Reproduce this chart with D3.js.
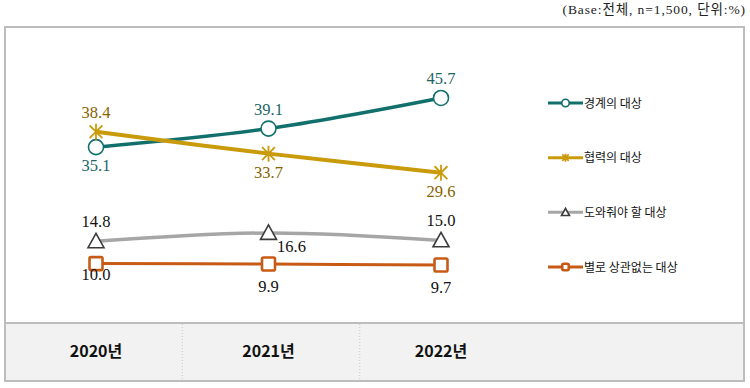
<!DOCTYPE html>
<html><head><meta charset="utf-8">
<script src="https://cdn.jsdelivr.net/npm/d3@7"></script>
<style>body{margin:0;background:#fff}svg{display:block}</style>
</head><body>
<script>
const years = ["2020년", "2021년", "2022년"];
const seriesNames = ["경계의 대상", "협력의 대상", "도와줘야 할 대상", "별로 상관없는 대상"];
const rivalry = [35.1, 39.1, 45.7];
const cooperation = [38.4, 33.7, 29.6];
const support = [14.8, 16.6, 15.0];
const indifferent = [10.0, 9.9, 9.7];
const colors = ["#11706b", "#c99b0b", "#a6a6a6", "#c75b16"];
const labelColors = ["#1b6664", "#8a6200", "#111", "#111"];
const markers = ["circle", "asterisk", "triangle", "square"];
const labelPlace = [["below","above","above"],["above","below","below"],["above","belowright","above"],["below","below","below"]];
const note = "(Base:전체, n=1,500, 단위:%)";

const W = 750, H = 388;
const svg = d3.select("body").append("svg").attr("width", W).attr("height", H);
const x = d3.scalePoint().domain(years).range([96, 441]);
const y = d3.scaleLinear().domain([0, 50]).range([310, 78]);
const series = [rivalry, cooperation, support, indifferent];

svg.append("text").attr("x", 746).attr("y", 14).attr("text-anchor", "end")
  .style("font-family", "'Liberation Serif','Noto Sans CJK KR'").style("font-size", "13.5px")
  .style("letter-spacing", "0.9px").attr("fill", "#222").text(note);

// frame
svg.append("rect").attr("x", 5).attr("y", 27).attr("width", 739).attr("height", 354)
  .attr("fill", "#fff").attr("stroke", "#bdbdbd").attr("stroke-width", 2);
// bottom band
svg.append("rect").attr("x", 5).attr("y", 323).attr("width", 739).attr("height", 58)
  .attr("fill", "#f2f2f2").attr("stroke", "#bdbdbd").attr("stroke-width", 2);
const mids = [(x(years[0]) + x(years[1])) / 2, (x(years[1]) + x(years[2])) / 2 + 5];
svg.selectAll("line.div").data(mids).join("line").attr("class", "div")
  .attr("x1", d => d).attr("x2", d => d).attr("y1", 324).attr("y2", 380)
  .attr("stroke", "#c8c8c8").attr("stroke-dasharray", "1,2");
svg.selectAll("text.yr").data(years).join("text").attr("class", "yr")
  .attr("x", d => x(d)).attr("y", 357).attr("text-anchor", "middle")
  .style("font-family", "'Liberation Sans Narrow','Noto Sans CJK KR'").style("font-weight", "bold")
  .style("font-size", "16px").attr("fill", "#111").text(d => d);

const line = d3.line().x((d, i) => x(years[i])).y(d => y(d)).curve(d3.curveCatmullRom.alpha(0.5));
const widths = [3.5, 4, 3.5, 3];

function drawMarker(g, type, cx, cy, col, scale) {
  const s = scale || 1;
  if (type === "circle") {
    g.append("circle").attr("cx", cx).attr("cy", cy).attr("r", 7.5 * s).attr("fill", "#fff").attr("stroke", col).attr("stroke-width", 1.6);
  } else if (type === "asterisk") {
    const r = 8 * s;
    const p = d3.path();
    p.moveTo(cx - r * 0.8, cy - r * 0.8); p.lineTo(cx + r * 0.8, cy + r * 0.8);
    p.moveTo(cx + r * 0.8, cy - r * 0.8); p.lineTo(cx - r * 0.8, cy + r * 0.8);
    p.moveTo(cx, cy - r); p.lineTo(cx, cy + r);
    g.append("path").attr("d", p.toString()).attr("stroke", col).attr("stroke-width", 1.8).attr("fill", "none");
  } else if (type === "triangle") {
    const r = 8 * s;
    g.append("path").attr("d", `M${cx},${cy - r}L${cx + r},${cy + r * 0.8}L${cx - r},${cy + r * 0.8}Z`)
      .attr("fill", "#fff").attr("stroke", "#3a3a3a").attr("stroke-width", 1.6);
  } else {
    const r = 6.5 * s;
    g.append("rect").attr("x", cx - r).attr("y", cy - r).attr("width", 2 * r).attr("height", 2 * r).attr("rx", 1.5)
      .attr("fill", "#fff").attr("stroke", col).attr("stroke-width", 2.6);
  }
}

series.forEach((vals, si) => {
  const g = svg.append("g");
  g.append("path").attr("d", line(vals)).attr("fill", "none").attr("stroke", colors[si]).attr("stroke-width", widths[si]);
  vals.forEach((v, i) => {
    drawMarker(g, markers[si], x(years[i]), y(v), colors[si]);
  });
  vals.forEach((v, i) => {
    const pl = labelPlace[si][i];
    let dx = 0, dy = pl === "above" ? -14 : 24;
    if (si === 3) dy = i === 0 ? 16 : 28;
    if (pl === "belowright") { dx = 23; dy = 19; }
    g.append("text").attr("x", x(years[i]) + dx).attr("y", y(v) + dy).attr("text-anchor", "middle")
      .style("font-family", "'Liberation Serif','DejaVu Serif',serif").style("font-size", "16.5px")
      .attr("fill", labelColors[si]).text(v.toFixed(1));
  });
});

// legend
const legY = d3.scalePoint().domain(seriesNames).range([103, 267]);
seriesNames.forEach((name, si) => {
  const ly = legY(name);
  const g = svg.append("g");
  g.append("line").attr("x1", 548).attr("x2", 583).attr("y1", ly).attr("y2", ly).attr("stroke", colors[si]).attr("stroke-width", 3);
  drawMarker(g, markers[si], 565.5, ly, colors[si], 0.5);
  g.append("text").attr("x", 584).attr("y", ly + 4.5)
    .style("font-family", "'Noto Sans CJK KR'").style("font-size", "12px").attr("fill", "#111").text(name);
});
</script>
</body></html>
